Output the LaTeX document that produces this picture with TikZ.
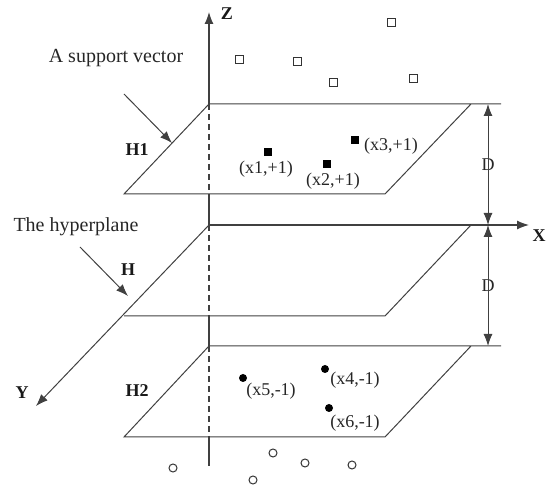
\documentclass[tikz,border=0pt]{standalone}
\usepackage{fontspec}
\setmainfont{Liberation Serif}
\usetikzlibrary{arrows.meta}
\tikzset{
  ln/.style={draw=black!75, line width=1pt},
  ax/.style={draw=black!75, line width=1.2pt},
  dsh/.style={draw=black!75, line width=1.2pt, dash pattern=on 6pt off 4pt},
  tip/.style={-{Latex[length=12pt,width=9pt]}},
  lbl/.style={font=\fontsize{18}{20}\selectfont, text=black!85, inner sep=0pt},
  big/.style={font=\fontsize{20}{22}\selectfont, text=black!85, inner sep=0pt},
  bl/.style={font=\fontsize{18}{20}\selectfont\bfseries, text=black!90, inner sep=0pt},
  osq/.style={draw=black!80, line width=1pt, fill=white, minimum size=8pt, inner sep=0pt, rectangle},
  fsq/.style={fill=black, minimum size=8pt, inner sep=0pt, rectangle},
  ocir/.style={draw=black!80, line width=1pt, circle, minimum size=8pt, inner sep=0pt},
  fcir/.style={fill=black, circle, minimum size=8pt, inner sep=0pt}
}
\begin{document}
\begin{tikzpicture}[x=1pt,y=-1pt]
\useasboundingbox (0,0) rectangle (547,486);
% key points
\coordinate (ztip) at (209,12);
\coordinate (zbot) at (209,466);
\coordinate (a1) at (209,104); \coordinate (b1) at (471,104);
\coordinate (c1) at (385,194); \coordinate (d1) at (124,194);
\coordinate (e1) at (501,104); \coordinate (z1) at (209,194);
\coordinate (a) at (209,225); \coordinate (b) at (471,225);
\coordinate (c) at (385,316); \coordinate (d) at (124,316);
\coordinate (xtip) at (529,225); \coordinate (ytip) at (36,406);
\coordinate (z0) at (209,316);
\coordinate (a2) at (209,346); \coordinate (b2) at (471,346);
\coordinate (c2) at (385,437); \coordinate (d2) at (124,437);
\coordinate (e2) at (501,346); \coordinate (z2) at (209,437);
\coordinate (Dt) at (488,104); \coordinate (Dm) at (488,225); \coordinate (Db) at (488,346);

% planes
\draw[ln] (e1) -- (a1) -- (d1) -- (c1) -- (b1);
\draw[ln] (d) -- (c) -- (b);
\draw[ln] (e2) -- (a2) -- (d2) -- (c2) -- (b2);

% axes
\draw[ax,tip] (a1) -- (ztip);
\draw[dsh] (a1) -- (z1);
\draw[ax] (z1) -- (a);
\draw[dsh] (a) -- (z0);
\draw[ax] (z0) -- (a2);
\draw[dsh] (a2) -- (z2);
\draw[ax] (z2) -- (zbot);
\draw[ax,tip] (a) -- (xtip);
\draw[ln,tip] (a) -- (ytip);

\node[bl] (Z) at (227,14) {Z};
\node[bl] (X) at (539,236) {X};
\node[bl] (Y) at (22,393) {Y};

% D arrows
\node[lbl] (D1) at (488,165) {D};
\node[lbl] (D2) at (488,286) {D};
\draw[ln,tip] ([yshift=-10pt]D1.center) -- (Dt);
\draw[ln,tip] ([yshift=10pt]D1.center) -- (Dm);
\draw[ln,tip] ([yshift=-10pt]D2.center) -- (Dm);
\draw[ln,tip] ([yshift=10pt]D2.center) -- (Db);

% annotations
\node[big] (sv) at (116,58) {A support vector};
\node[big] (hp) at (76,227) {The hyperplane};
\coordinate (sva) at (124,94); \coordinate (svb) at (172,143);
\coordinate (hpa) at (80,247); \coordinate (hpb) at (128,296);
\draw[ln,tip] (sva) -- (svb);
\draw[ln,tip] (hpa) -- (hpb);
\node[bl] (H1) at (137,150) {H1};
\node[bl] (H) at (128,270) {H};
\node[bl] (H2) at (137,391) {H2};

% positive class
\node[osq] (s1) at (239,60) {};
\node[osq] (s2) at (391,23) {};
\node[osq] (s3) at (297,62) {};
\node[osq] (s4) at (333,83) {};
\node[osq] (s5) at (413,79) {};
\node[fsq] (p1) at (268,152) {};
\node[fsq] (p2) at (327,164) {};
\node[fsq] (p3) at (355,140) {};
\node[lbl] (l1) at (266,169) {(x1,+1)};
\node[lbl] (l2) at (333,181) {(x2,+1)};
\node[lbl] (l3) at (391,146) {(x3,+1)};

% negative class
\node[fcir] (n5) at (243,378) {};
\node[fcir] (n4) at (325,369) {};
\node[fcir] (n6) at (329,408) {};
\node[lbl] (l5) at (271,391) {(x5,-1)};
\node[lbl] (l4) at (355,380) {(x4,-1)};
\node[lbl] (l6) at (355,423) {(x6,-1)};
\node[ocir] (o1) at (173,468) {};
\node[ocir] (o2) at (253,480) {};
\node[ocir] (o3) at (273,453) {};
\node[ocir] (o4) at (305,463) {};
\node[ocir] (o5) at (352,465) {};
\end{tikzpicture}
\end{document}
